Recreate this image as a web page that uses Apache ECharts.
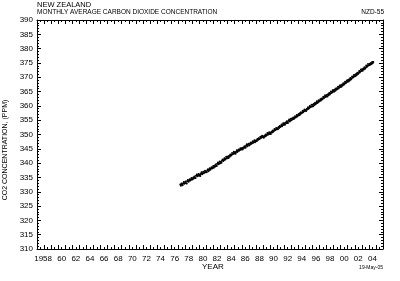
<!DOCTYPE html>
<html>
<head>
<meta charset="utf-8">
<script src="https://cdn.jsdelivr.net/npm/echarts@6/dist/echarts.min.js"></script>
<style>html,body{margin:0;padding:0;background:#fff;}#c{width:400px;height:281px;}</style>
</head>
<body>
<div id="c"></div>
<script>
// Category bands for the year labels (labels centred in each year band)
const yearCats = [];
for (let y = 1957; y <= 2005; y++) yearCats.push(String(y));
const xTickLabels = ['1958','60','62','64','66','68','70','72','74','76','78','80','82','84','86','88','90','92','94','96','98','00','02','04'];
const yTickValues = [310,315,320,325,330,335,340,345,350,355,360,365,370,375,380,385,390];

// Monthly average CO2 (ppm), New Zealand, starting April 1977
const startYear = 1977;
const startMonth = 3; // April (0-based)
const co2Monthly = [
  332.5,332.1,332.9,332.6,332.3,333.0,333.4,332.8,333.1,                   // 1977 Apr-Dec
  333.6,333.0,332.9,333.7,334.1,333.5,333.8,334.4,333.9,334.2,334.8,334.3, // 1978
  334.4,335.0,334.6,335.3,334.9,334.8,335.6,336.0,335.4,335.7,336.2,335.6, // 1979
  336.0,335.5,336.3,336.8,336.1,336.4,337.0,336.5,336.7,337.3,336.8,337.1, // 1980
  336.8,337.5,337.9,337.2,337.6,338.2,337.7,338.0,338.6,338.1,338.4,339.0, // 1981
  338.4,339.0,338.7,339.5,339.2,339.0,339.8,340.2,339.6,339.9,340.6,340.0, // 1982
  340.5,340.1,340.9,341.3,340.7,341.0,341.7,341.2,341.5,342.2,341.6,341.9, // 1983
  342.3,341.8,342.5,342.2,343.0,342.6,342.8,343.5,343.1,343.3,344.0,343.4, // 1984
  343.8,343.3,344.0,344.5,343.9,344.2,344.8,344.3,344.6,345.2,344.7,345.0, // 1985
  345.3,344.8,345.5,345.2,345.9,345.6,345.4,346.2,346.6,345.9,346.3,346.8, // 1986
  346.2,346.8,346.5,347.2,346.8,347.0,347.6,347.1,347.4,348.0,347.3,347.7, // 1987
  348.0,347.6,348.4,348.1,348.7,348.3,348.5,349.2,348.8,349.0,349.6,349.0, // 1988
  349.3,348.9,349.6,349.3,350.0,349.6,349.8,350.5,349.9,350.3,350.8,350.2, // 1989
  350.6,350.2,351.0,350.7,351.4,351.0,351.2,351.9,351.5,351.7,352.3,351.8, // 1990
  352.2,351.8,352.6,352.3,353.0,352.6,352.9,353.5,352.9,353.2,353.9,353.4, // 1991
  353.8,353.4,354.2,353.9,354.6,354.1,354.0,354.8,355.2,354.5,354.9,355.5, // 1992
  355.0,355.6,355.3,355.9,355.4,355.8,356.4,355.9,356.2,356.8,356.3,356.6, // 1993
  357.2,356.7,357.4,357.0,357.8,357.4,357.6,358.3,357.8,358.1,358.7,358.2, // 1994
  358.6,358.2,359.0,358.7,359.5,359.0,359.3,360.0,359.5,359.7,360.4,359.8, // 1995
  360.4,359.9,360.7,360.3,361.1,360.6,360.9,361.6,361.0,361.3,362.0,361.5, // 1996
  361.7,362.3,361.9,362.6,362.2,362.5,363.2,362.7,363.0,363.7,363.1,363.4, // 1997
  363.8,363.3,364.1,363.7,364.5,364.0,364.3,365.0,364.5,364.8,365.5,364.9, // 1998
  365.5,365.0,365.8,365.4,366.2,365.7,366.0,366.7,366.1,366.4,367.1,366.6, // 1999
  367.2,366.7,367.5,367.1,367.9,367.4,367.7,368.4,367.9,368.2,368.9,368.4, // 2000
  369.0,368.5,369.3,368.9,369.7,369.2,369.5,370.3,369.8,370.1,370.8,370.3, // 2001
  370.9,370.4,371.2,370.8,371.6,371.1,371.4,372.2,371.7,372.0,372.7,372.2, // 2002
  372.8,372.3,373.1,372.7,373.5,373.0,373.3,374.1,373.6,373.9,374.6,374.1, // 2003
  374.3,374.7,374.4,375.0,374.6,375.3,374.9,375.3                          // 2004 Jan-Aug
];

const seriesData = co2Monthly.map((v, i) => [startYear + (startMonth + i + 0.5) / 12, v]);

const FONT = 'Liberation Sans, Arial, sans-serif';
const chart = echarts.init(document.getElementById('c'), null, {renderer: 'canvas'});

const valueXAxisBase = {
  type: 'value', min: 1957, max: 2006, interval: 1,
  axisLine: {show: true, onZero: false, lineStyle: {color: '#000', width: 1}},
  axisTick: {show: true, inside: true, length: 4, lineStyle: {color: '#000', width: 1}},
  minorTick: {show: true, splitNumber: 2, length: 2, lineStyle: {color: '#000', width: 1}},
  axisLabel: {show: false},
  splitLine: {show: false}
};
const valueYAxisBase = {
  type: 'value', min: 310, max: 390, interval: 5,
  axisLine: {show: true, onZero: false, lineStyle: {color: '#000', width: 1}},
  axisTick: {show: true, inside: true, length: 4, lineStyle: {color: '#000', width: 1}},
  minorTick: {show: true, splitNumber: 5, length: 2, lineStyle: {color: '#000', width: 1}},
  splitLine: {show: false}
};

chart.setOption({
  animation: false,
  backgroundColor: '#fff',
  grid: {left: 37, right: 17, top: 20, bottom: 32, containLabel: false},
  xAxis: [
    {
      type: 'category', data: yearCats, position: 'bottom', boundaryGap: true,
      axisLine: {show: false}, axisTick: {show: false}, splitLine: {show: false},
      axisLabel: {
        show: true, color: '#000', fontSize: 8, fontFamily: FONT, margin: 6,
        interval: (idx, val) => (Number(val) % 2 === 0),
        formatter: (val) => {
          const t = xTickLabels[(Number(val) - 1958) / 2];
          return val === '1958' ? '{w|' + t + '}' : t;
        },
        rich: {w: {fontSize: 8, fontFamily: FONT, color: '#000', padding: [0, 9, 0, 0]}}
      }
    },
    Object.assign({}, valueXAxisBase, {position: 'bottom'}),
    Object.assign({}, valueXAxisBase, {position: 'top'})
  ],
  yAxis: [
    Object.assign({}, valueYAxisBase, {
      position: 'left',
      axisLabel: {show: true, color: '#000', fontSize: 8, fontFamily: FONT, margin: 4,
        formatter: (v) => yTickValues.includes(v) ? String(v) : ''}
    }),
    Object.assign({}, valueYAxisBase, {position: 'right', axisLabel: {show: false}})
  ],
  series: [{
    type: 'line',
    xAxisIndex: 1,
    yAxisIndex: 0,
    data: seriesData,
    symbol: 'circle',
    symbolSize: 2,
    showSymbol: true,
    itemStyle: {color: '#000'},
    lineStyle: {color: '#000', width: 0.7}
  }],
  graphic: [
    {type: 'text', left: 37, top: 1, style: {text: 'NEW ZEALAND', fill: '#000', font: '7.5px ' + FONT}},
    {type: 'text', left: 37, top: 9, style: {text: 'MONTHLY AVERAGE CARBON DIOXIDE CONCENTRATION', fill: '#000', font: '6.5px ' + FONT}},
    {type: 'text', right: 16, top: 9, style: {text: 'NZD-55', fill: '#000', font: '6.5px ' + FONT}},
    {type: 'text', left: 202, top: 263, style: {text: 'YEAR', fill: '#000', font: '8px ' + FONT}},
    {type: 'text', right: 17, top: 265, style: {text: '19-May-05', fill: '#000', font: '5px ' + FONT}},
    {type: 'text', x: 5, y: 150, rotation: Math.PI / 2,
      style: {text: 'CO2 CONCENTRATION, (PPM)', fill: '#000', font: '7px ' + FONT, align: 'center', verticalAlign: 'middle'}}
  ]
});
</script>
</body>
</html>
